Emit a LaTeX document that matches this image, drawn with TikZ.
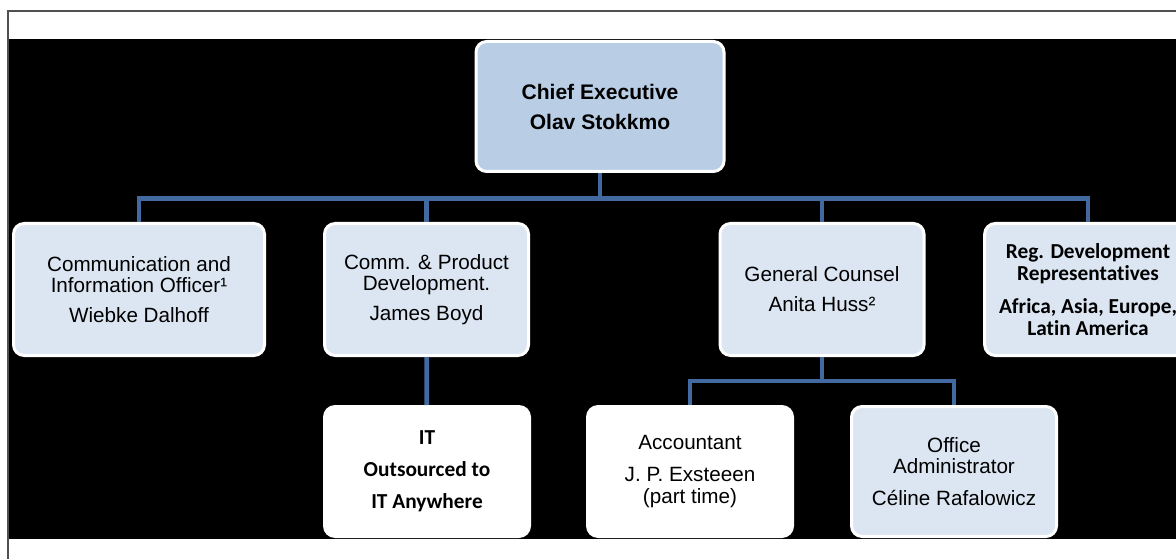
\documentclass[tikz,border=0pt]{standalone}
\usepackage{fontspec}
\setmainfont{Liberation Sans}
\newfontfamily\calibfont[Ligatures=NoCommon]{Carlito}

\begin{document}
\begin{tikzpicture}[x=0.75pt,y=0.75pt,yscale=-1,xscale=1,
  box/.style={draw=white, line width=2.25pt, rounded corners=8pt, align=center, inner sep=0pt, text=black},
  headbox/.style={box, minimum width=186pt, minimum height=97.5pt, fill={rgb, 255:red, 185; green, 205; blue, 229}, font=\bfseries\fontsize{15.8}{22.5}\selectfont},
  unitbox/.style={box, minimum width=153pt, minimum height=99pt, fill={rgb, 255:red, 220; green, 230; blue, 242}, font=\fontsize{15.5}{16}\selectfont},
  staffbox/.style={box, minimum width=153.75pt, minimum height=97.5pt, fill=white, font=\fontsize{15.5}{16}\selectfont},
  link/.style={draw={rgb, 255:red, 66; green, 106; blue, 160}, line width=3.5pt}]
\useasboundingbox (0,0) rectangle (1176,559);

%Background and frame
\fill[white] (0,0) rectangle (1176,559);
\fill[black] (9,39) rectangle (1176,539);
\draw[color={rgb, 255:red, 80; green, 80; blue, 80 }, line width=1.2pt] (8,559) -- (8,11) -- (1176,11);

%Shape: Chief
\node[headbox] (chief) at (600,106.5) {Chief Executive\\Olav Stokkmo};

%Shape: Second row
\node[unitbox, minimum width=188.25pt] (comm) at (139,289.5) {Communication and\\Information Officer¹\\[6.3pt]Wiebke Dalhoff};
\node[unitbox] (prod) at (426.5,289.5) {Comm. \& Product\\Development.\\[6.3pt]James Boyd};
\node[unitbox] (counsel) at (822,289.5) {General Counsel\\[6.5pt]Anita Huss²};
\node[unitbox, minimum width=155pt, font=\calibfont\bfseries\fontsize{16}{16.7}\selectfont] (reg) at (1088,289.5) {Reg. Development\\Representatives\\[7.8pt]Africa, Asia, Europe,\\Latin America};

%Shape: Third row
\node[staffbox, font=\calibfont\bfseries\fontsize{16}{24}\selectfont] (it) at (427,471.5) {IT\\Outsourced to\\IT Anywhere};
\node[staffbox] (acct) at (690,471.5) {Accountant\\[8pt]J. P. Exsteeen\\(part time)};
\node[staffbox, fill={rgb, 255:red, 220; green, 230; blue, 242}] (office) at (954,471.5) {Office\\Administrator\\[7.5pt]Céline Rafalowicz};

%Straight Lines
\coordinate (hub) at (600,198.5);
\coordinate (split) at (822,381);
\draw[link] (chief) -- (hub);
\draw[link] (comm.north) |- (hub) -| (reg.north);
\draw[link] (prod) -- (prod |- hub);
\draw[link] (counsel) -- (counsel |- hub);
\draw[link] (prod) -- (it);
\draw[link] (counsel) -- (split);
\draw[link] (acct.north) |- (split) -| (office.north);

\end{tikzpicture}
\end{document}
